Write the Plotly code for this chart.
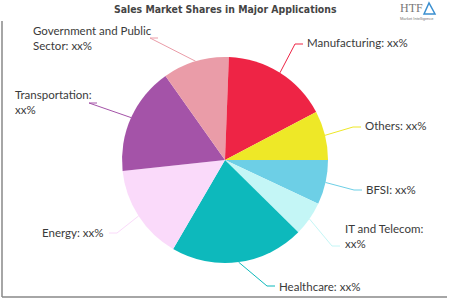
import math
import plotly.graph_objects as go

# ---- data ----
categories = ["BFSI", "IT and Telecom", "Healthcare", "Energy", "Transportation",
              "Government and Public Sector", "Manufacturing", "Others"]
shares = [7.0, 5.4, 21.0, 14.9, 16.9, 10.4, 16.7, 7.7]
label_texts = ["BFSI: xx%", "IT and Telecom:<br>xx%", "Healthcare: xx%", "Energy: xx%",
               "Transportation:<br>xx%", "Government and Public<br>Sector: xx%",
               "Manufacturing: xx%", "Others: xx%"]
colors = ["#6DCFE6", "#C4F6F6", "#0DB9BC", "#FADAFA", "#A453A8", "#EA9CA8", "#EE2445", "#EEE827"]

# ---- layout constants (pixels) ----
W, H = 450, 300
CX, CY, R = 225, 160, 103
ROT = 90

def px(x):
    return x / W

def py(y):
    return 1 - y / H

# label placement: text x, text y, connector end x, end y, anchor
label_pos = [
    (364, 189, 362, 190, "left"),
    (343, 236, 340, 246, "left"),
    (277, 286, 275, 286, "left"),
    (105, 232, 109, 233, "right"),
    (13, 102, 97, 103, "left"),
    (31, 38, 158, 38, "left"),
    (305, 43, 303, 44, "left"),
    (363, 126, 361, 127, "left"),
]

fig = go.Figure(go.Pie(
    labels=categories, values=shares, sort=False, direction="clockwise",
    rotation=ROT, marker=dict(colors=colors, line=dict(width=0)),
    textinfo="none", hoverinfo="label+percent", showlegend=False,
    domain=dict(x=[px(CX - R), px(CX + R)], y=[py(CY + R), py(CY - R)]),
))

annotations = []
shapes = []
total = sum(shares)
start = ROT
font = dict(family="Lato, 'Open Sans', sans-serif", size=11.5, color="#3a3a3a")
for i, v in enumerate(shares):
    ang = start + v / total * 360 / 2
    start += v / total * 360
    ex = CX + R * math.sin(math.radians(ang))
    ey = CY - R * math.cos(math.radians(ang))
    tx, ty, cx2, cy2, anchor = label_pos[i]
    elbow = cx2 - 8 if anchor == "left" else cx2 + 8
    path = f"M {px(ex)} {py(ey)} L {px(elbow)} {py(cy2)} L {px(cx2)} {py(cy2)}"
    shapes.append(dict(type="path", xref="paper", yref="paper", path=path,
                       line=dict(color=colors[i], width=1)))
    annotations.append(dict(x=px(tx), y=py(ty), xref="paper", yref="paper",
                            text=label_texts[i], showarrow=False, xanchor=anchor,
                            yanchor="middle", align="left", font=font))

# title
annotations.append(dict(x=0.5, y=py(9), xref="paper", yref="paper",
                        text="<b>Sales Market Shares in Major Applications</b>",
                        showarrow=False, xanchor="center", yanchor="middle",
                        font=dict(family="'DejaVu Sans Condensed', 'Liberation Sans Narrow', sans-serif",
                                  size=10.4, color="#444444")))
# logo text
annotations.append(dict(x=px(398), y=py(8), xref="paper", yref="paper", text="HTF",
                        showarrow=False, xanchor="left", yanchor="middle",
                        font=dict(family="'Liberation Serif', serif", size=12, color="#777777")))
annotations.append(dict(x=px(398), y=py(18), xref="paper", yref="paper", text="Market Intelligence",
                        showarrow=False, xanchor="left", yanchor="middle",
                        font=dict(family="'Liberation Sans', sans-serif", size=4, color="#777777")))
shapes.append(dict(type="path", xref="paper", yref="paper",
                   path=f"M {px(424)} {py(14)} L {px(429)} {py(3)} L {px(435)} {py(14)} Z",
                   line=dict(color="#3A8FD0", width=1.5), fillcolor="rgba(0,0,0,0)"))

# frame (left and bottom)
shapes.append(dict(type="line", xref="paper", yref="paper", x0=px(2), x1=px(2), y0=py(21), y1=py(297),
                   line=dict(color="#888888", width=1.5)))
shapes.append(dict(type="line", xref="paper", yref="paper", x0=px(2), x1=px(447), y0=py(297), y1=py(297),
                   line=dict(color="#888888", width=1.5)))

fig.update_layout(width=W, height=H, margin=dict(l=0, r=0, t=0, b=0),
                  paper_bgcolor="white", plot_bgcolor="white",
                  annotations=annotations, shapes=shapes)
fig.write_html("out.html", config={"displayModeBar": False})
